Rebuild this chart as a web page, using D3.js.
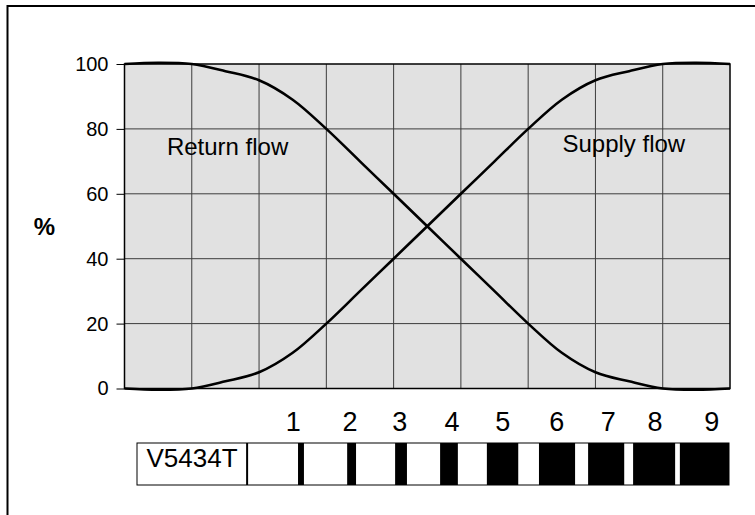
<!DOCTYPE html>
<html>
<head>
<meta charset="utf-8">
<script src="https://cdn.jsdelivr.net/npm/d3@7"></script>
<style>
  html, body { margin: 0; padding: 0; background: #fff; }
  svg { display: block; font-family: "Liberation Sans", Arial, sans-serif; }
</style>
</head>
<body>
<svg id="chart" width="755" height="515"></svg>
<script>
// ---- data ----
const positions = [0, 0.5, 1, 1.5, 2, 2.5, 3, 3.5, 4, 4.5, 5, 5.5, 6, 6.5, 7, 7.5, 8, 8.5, 9];
const returnFlow = [100, 100.4, 100, 97.8, 95, 89, 80, 70, 60, 50, 40, 30, 20, 11, 5, 2.2, 0, -0.4, 0];
const supplyFlow = [0, -0.4, 0, 2.2, 5, 11, 20, 30, 40, 50, 60, 70, 80, 89, 95, 97.8, 100, 100.4, 100];
const yTicks = [0, 20, 40, 60, 80, 100];
const xGrid = [0, 1, 2, 3, 4, 5, 6, 7, 8, 9];
const seriesNames = ["Return flow", "Supply flow"];
const yLabel = "%";
// setting strip (in % of strip length)
const stripName = "V5434T";
const stripDivider = 18.6;
const settingLabels = ["1", "2", "3", "4", "5", "6", "7", "8", "9"];
const settingLabelPos = [26.4, 36.0, 44.4, 53.2, 61.8, 70.9, 79.6, 87.5, 97.1];
const barStart = [27.2, 35.5, 43.6, 51.2, 59.1, 67.9, 76.2, 83.8, 91.7];
const barEnd   = [28.2, 37.0, 45.6, 54.2, 64.4, 74.0, 82.3, 90.9, 100];

const svg = d3.select("#chart");

// outer frame (only left/top visible)
svg.append("rect").attr("x", 7.5).attr("y", 6).attr("width", 800).attr("height", 600)
  .attr("fill", "none").attr("stroke", "#000").attr("stroke-width", 2);

const x = d3.scaleLinear().domain([0, 9]).range([124.5, 730]);
const y = d3.scaleLinear().domain([0, 100]).range([388.5, 64]);

// plot background
svg.append("rect").attr("x", x(0)).attr("y", y(100))
  .attr("width", x(9) - x(0)).attr("height", y(0) - y(100))
  .attr("fill", "#e1e1e1");

// grid
svg.append("g").selectAll("line").data(xGrid.slice(1, -1)).join("line")
  .attr("x1", d => x(d)).attr("x2", d => x(d))
  .attr("y1", y(100)).attr("y2", y(0))
  .attr("stroke", "#3c3c3c").attr("stroke-width", 1);
svg.append("g").selectAll("line").data(yTicks.slice(1, -1)).join("line")
  .attr("x1", x(0)).attr("x2", x(9))
  .attr("y1", d => y(d)).attr("y2", d => y(d))
  .attr("stroke", "#3c3c3c").attr("stroke-width", 1);

// y axis
const yAxis = svg.append("g").attr("transform", `translate(${x(0)},0)`)
  .call(d3.axisLeft(y).tickValues(yTicks).tickSize(8).tickPadding(8).tickFormat(d3.format("d")));
yAxis.select(".domain").remove();
yAxis.attr("font-size", 20).attr("font-family", '"Liberation Sans", Arial, sans-serif');
yAxis.selectAll(".tick line").attr("stroke", "#000");
yAxis.selectAll(".tick text").attr("fill", "#000");

// plot border
svg.append("rect").attr("x", x(0)).attr("y", y(100))
  .attr("width", x(9) - x(0)).attr("height", y(0) - y(100))
  .attr("fill", "none").attr("stroke", "#000").attr("stroke-width", 1.5);

// curves
const line = d3.line().x((d, i) => x(positions[i])).y(d => y(d)).curve(d3.curveCatmullRom.alpha(0.5));
[returnFlow, supplyFlow].forEach(s => {
  svg.append("path").datum(s).attr("d", line)
    .attr("fill", "none").attr("stroke", "#000").attr("stroke-width", 2.6);
});

// series labels
svg.append("text").attr("x", x(0.63)).attr("y", y(72)).attr("font-size", 24)
  .text(seriesNames[0]);
svg.append("text").attr("x", x(6.51)).attr("y", y(73)).attr("font-size", 24)
  .text(seriesNames[1]);

// y label
svg.append("text").attr("x", 44.5).attr("y", 235).attr("text-anchor", "middle")
  .attr("font-size", 24).attr("font-weight", "bold").text(yLabel);

// setting strip
const s = d3.scaleLinear().domain([0, 100]).range([137, 729]);
const stripTop = 443, stripBottom = 485;
svg.append("rect").attr("x", s(0)).attr("y", stripTop)
  .attr("width", s(100) - s(0)).attr("height", stripBottom - stripTop)
  .attr("fill", "#fff").attr("stroke", "#000").attr("stroke-width", 1);
svg.append("g").selectAll("rect").data(barStart).join("rect")
  .attr("x", d => s(d)).attr("y", stripTop)
  .attr("width", (d, i) => s(barEnd[i]) - s(d)).attr("height", stripBottom - stripTop)
  .attr("fill", "#000");
svg.append("line").attr("x1", s(stripDivider)).attr("x2", s(stripDivider))
  .attr("y1", stripTop).attr("y2", stripBottom).attr("stroke", "#000").attr("stroke-width", 2);
svg.append("text").attr("x", (s(0) + s(stripDivider)) / 2).attr("y", 467)
  .attr("text-anchor", "middle").attr("font-size", 26).text(stripName);
svg.append("g").selectAll("text").data(settingLabels).join("text")
  .attr("x", (d, i) => s(settingLabelPos[i])).attr("y", 431)
  .attr("text-anchor", "middle").attr("font-size", 27).text(d => d);
</script>
</body>
</html>
